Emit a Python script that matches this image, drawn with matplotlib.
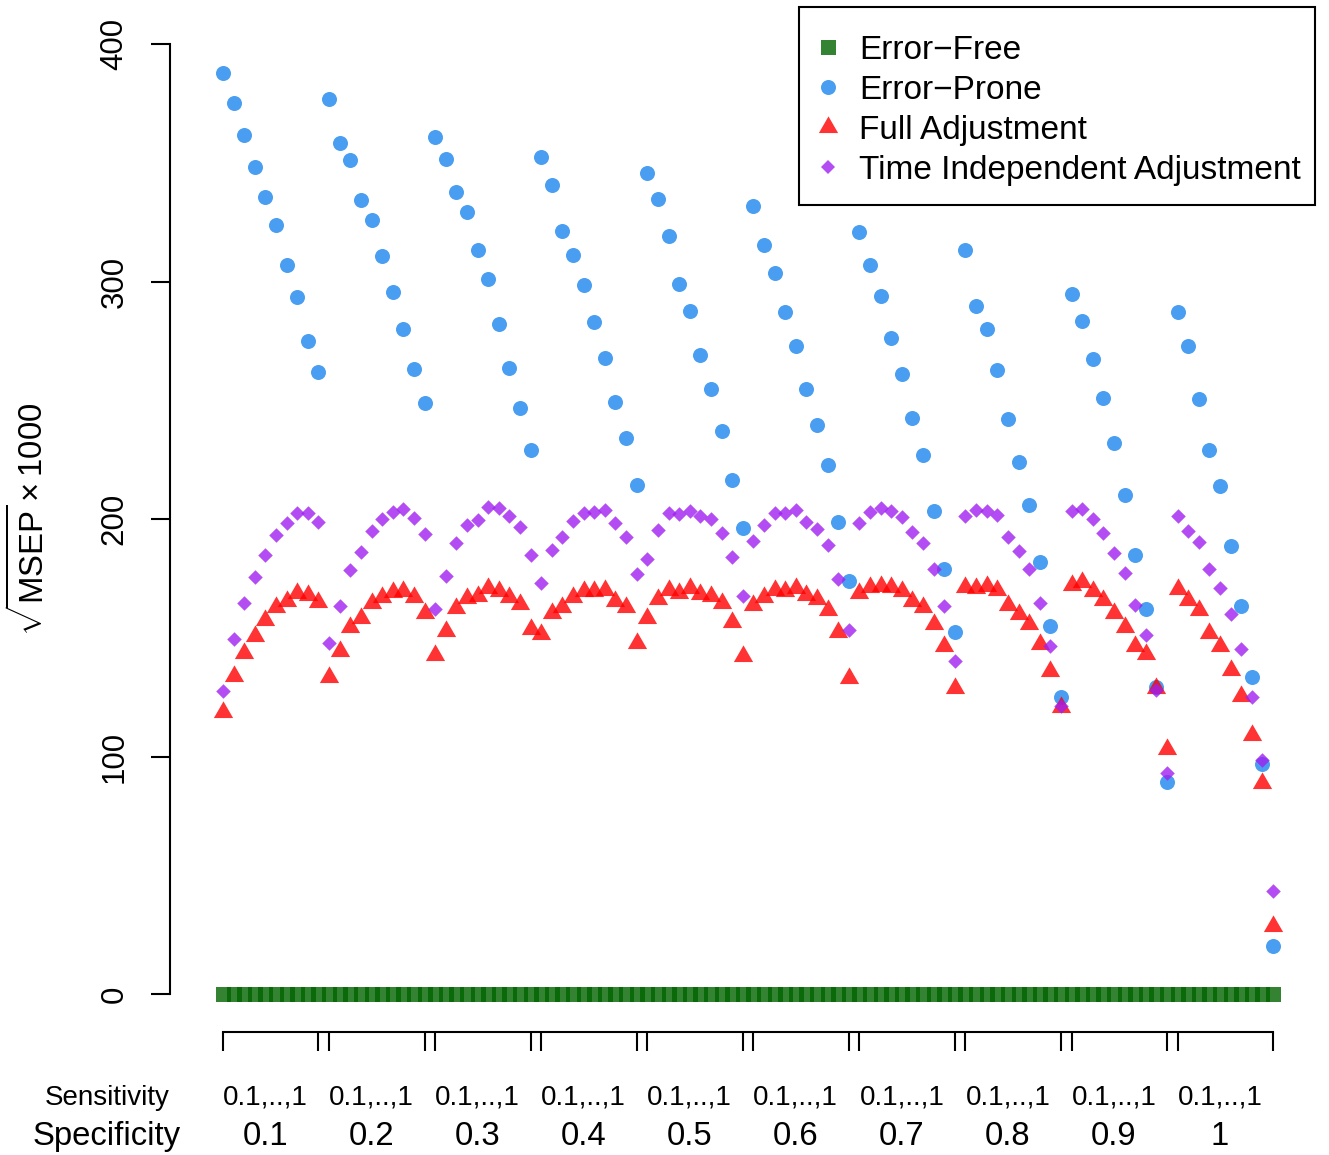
import matplotlib
matplotlib.use("Agg")
import matplotlib.pyplot as plt
from matplotlib.path import Path
from matplotlib.lines import Line2D
from matplotlib.patches import Rectangle
from matplotlib.transforms import blended_transform_factory

plt.rcParams['font.family'] = ['Liberation Sans', 'DejaVu Sans']
plt.rcParams['mathtext.fontset'] = 'custom'
plt.rcParams['mathtext.rm'] = 'Liberation Sans'
plt.rcParams['mathtext.it'] = 'Liberation Sans:italic'
plt.rcParams['mathtext.bf'] = 'Liberation Sans:bold'

# Specificity groups; within each group sensitivity runs 0.1, 0.2, ..., 1
specificity = ["0.1", "0.2", "0.3", "0.4", "0.5", "0.6", "0.7", "0.8", "0.9", "1"]
sensitivity_label = "0.1,..,1"
series_names = ["Error\u2212Free", "Error\u2212Prone", "Full Adjustment",
                "Time Independent Adjustment"]

# sqrt(MSEP) x 1000, ten sensitivity values per specificity group
error_free = [
    0.0, 0.0, 0.0, 0.0, 0.0, 0.0, 0.0, 0.0, 0.0, 0.0,
    0.0, 0.0, 0.0, 0.0, 0.0, 0.0, 0.0, 0.0, 0.0, 0.0,
    0.0, 0.0, 0.0, 0.0, 0.0, 0.0, 0.0, 0.0, 0.0, 0.0,
    0.0, 0.0, 0.0, 0.0, 0.0, 0.0, 0.0, 0.0, 0.0, 0.0,
    0.0, 0.0, 0.0, 0.0, 0.0, 0.0, 0.0, 0.0, 0.0, 0.0,
    0.0, 0.0, 0.0, 0.0, 0.0, 0.0, 0.0, 0.0, 0.0, 0.0,
    0.0, 0.0, 0.0, 0.0, 0.0, 0.0, 0.0, 0.0, 0.0, 0.0,
    0.0, 0.0, 0.0, 0.0, 0.0, 0.0, 0.0, 0.0, 0.0, 0.0,
    0.0, 0.0, 0.0, 0.0, 0.0, 0.0, 0.0, 0.0, 0.0, 0.0,
    0.0, 0.0, 0.0, 0.0, 0.0, 0.0, 0.0, 0.0, 0.0, 0.0,
]
error_prone = [
    387.7, 375.0, 361.5, 348.3, 335.6, 323.9, 306.8, 293.3, 274.9, 262.0,
    376.8, 358.2, 351.3, 334.3, 325.9, 310.9, 295.7, 279.9, 263.0, 248.7,
    360.8, 351.7, 337.5, 329.4, 313.3, 301.1, 282.0, 263.4, 246.7, 229.1,
    352.3, 340.6, 321.1, 311.3, 298.5, 282.8, 267.8, 249.4, 233.9, 214.2,
    345.5, 334.6, 319.2, 298.9, 287.7, 269.2, 254.6, 236.9, 216.3, 196.2,
    331.6, 315.4, 303.7, 287.2, 272.8, 254.6, 239.6, 222.9, 198.6, 174.0,
    320.7, 307.1, 294.0, 276.3, 261.1, 242.4, 226.8, 203.4, 178.8, 152.3,
    313.1, 289.7, 280.0, 262.9, 242.1, 224.1, 206.0, 182.0, 154.9, 125.2,
    294.7, 283.5, 267.2, 250.8, 232.1, 210.2, 185.0, 162.0, 129.4, 89.3,
    287.0, 272.8, 250.5, 229.2, 213.8, 188.6, 163.5, 133.6, 97.0, 20.2,
]
full_adjustment = [
    118.7, 133.8, 143.4, 150.7, 157.4, 162.8, 165.6, 168.7, 167.9, 165.2,
    133.6, 144.3, 154.6, 158.3, 164.7, 167.3, 169.3, 169.6, 167.3, 160.6,
    142.9, 153.0, 162.5, 166.7, 167.4, 170.9, 169.8, 167.3, 164.2, 153.8,
    151.4, 160.3, 162.8, 167.3, 169.8, 169.6, 170.3, 165.6, 162.8, 148.0,
    158.3, 166.3, 170.1, 168.8, 170.9, 168.4, 167.7, 164.6, 156.8, 142.3,
    164.0, 167.3, 170.1, 169.8, 170.9, 168.0, 166.3, 161.5, 152.3, 133.2,
    168.7, 171.5, 171.9, 171.5, 169.8, 165.6, 162.8, 155.8, 146.4, 128.9,
    171.4, 171.1, 171.9, 170.3, 163.8, 160.0, 155.8, 147.4, 135.9, 120.8,
    172.1, 173.5, 169.8, 165.9, 160.3, 154.7, 146.6, 143.3, 128.8, 103.0,
    170.7, 165.9, 161.7, 151.9, 146.6, 136.4, 125.4, 109.0, 88.8, 28.6,
]
time_independent = [
    127.7, 149.6, 164.5, 175.7, 184.8, 193.3, 198.2, 202.4, 202.7, 198.6,
    147.7, 163.5, 178.5, 186.0, 194.9, 200.0, 202.8, 204.2, 200.6, 193.5,
    162.0, 176.1, 189.8, 197.5, 199.6, 205.2, 204.5, 201.4, 196.5, 184.8,
    172.9, 186.9, 192.3, 199.3, 202.4, 203.1, 203.8, 198.2, 192.6, 176.8,
    183.0, 195.4, 202.4, 202.1, 203.5, 201.3, 199.9, 194.0, 183.9, 167.7,
    190.9, 197.5, 202.7, 202.7, 203.8, 198.9, 195.7, 189.1, 174.6, 153.3,
    198.4, 202.8, 204.5, 203.4, 201.0, 194.7, 190.0, 178.9, 163.5, 140.3,
    201.3, 203.8, 203.4, 201.7, 192.3, 186.5, 178.9, 164.5, 146.6, 121.3,
    203.4, 204.2, 200.0, 194.2, 185.5, 177.1, 163.8, 151.0, 128.0, 93.2,
    201.3, 195.1, 190.3, 178.8, 171.1, 160.0, 145.1, 125.2, 98.5, 43.5,
]

n_sens = 10
n_total = len(error_prone)
index = list(range(1, n_total + 1))

# Colours (80% opaque)
col_free = (0.0, 100 / 255, 0.0, 0.8)
col_prone = (28 / 255, 134 / 255, 238 / 255, 0.8)
col_full = (1.0, 0.0, 0.0, 0.8)
col_time = (160 / 255, 32 / 255, 240 / 255, 0.8)

# Upward triangle whose centroid sits on the data point
tri_marker = Path([(0.0, 1.5551), (1.3468, -0.7776), (-1.3468, -0.7776), (0.0, 1.5551)],
                  [Path.MOVETO, Path.LINETO, Path.LINETO, Path.CLOSEPOLY])

W, H = 1329, 1155
fig = plt.figure(figsize=(W / 100, H / 100), dpi=100)
left_px, right_px, top_px, bottom_px = 170, 1315.5, 6, 1032
ax = fig.add_axes([left_px / W, 1 - bottom_px / H,
                   (right_px - left_px) / W, (bottom_px - top_px) / H])

ms_sq, ms_circ, ms_tri, ms_dia = 10.8, 10.8, 16.0, 7.4
ax.scatter(index, error_free, marker="s", s=ms_sq ** 2, color=col_free, linewidths=0, zorder=2)
ax.scatter(index, error_prone, marker="o", s=ms_circ ** 2, color=col_prone, linewidths=0, zorder=3)
ax.scatter(index, full_adjustment, marker=tri_marker, s=ms_tri ** 2, color=col_full, linewidths=0, zorder=4)
ax.scatter(index, time_independent, marker="D", s=ms_dia ** 2, color=col_time, linewidths=0, zorder=5)

ax.set_xlim(-4, 104)
ax.set_ylim(-16, 416)

# Axes in base-graphics style: open frame, bounded spines
for side in ("top", "right"):
    ax.spines[side].set_visible(False)
lw = 1.5
ax.spines["left"].set_bounds(0, 400)
ax.spines["bottom"].set_bounds(1, n_total)
ax.spines["left"].set_linewidth(lw)
ax.spines["bottom"].set_linewidth(lw)

group_edges = []
for g in range(len(specificity)):
    group_edges += [g * n_sens + 1, (g + 1) * n_sens]
ax.set_xticks(group_edges)
ax.set_xticklabels([])
ax.set_yticks([0, 100, 200, 300, 400])
ax.set_yticklabels(["0", "100", "200", "300", "400"], rotation=90, va="center")
ax.tick_params(axis="both", direction="out", length=14, width=lw)
ax.tick_params(axis="y", labelsize=22.5, pad=15)

# Group annotations under the axis
trans = blended_transform_factory(ax.transData, fig.transFigure)
y_sens = 1 - 1105 / H
y_spec = 1 - 1145 / H
for g, spec in enumerate(specificity):
    xc = g * n_sens + 5
    ax.text(xc, y_sens, sensitivity_label, transform=trans, ha="center",
            va="baseline", fontsize=20)
    ax.text(xc, y_spec, spec, transform=trans, ha="center",
            va="baseline", fontsize=23.7)
fig.text(107 / W, y_sens, "Sensitivity", ha="center", va="baseline", fontsize=20)
fig.text(107 / W, y_spec, "Specificity", ha="center", va="baseline", fontsize=23.7)

fig.text(30 / W, 1 - 519 / H, r"$\sqrt{\mathrm{MSEP}}\times1000$", rotation=90,
         ha="center", va="center", fontsize=23.7)

# Legend: entries without frame, boxed by a plain rectangle
handles = [
    Line2D([], [], linestyle="none", marker="s", markersize=ms_sq, color=col_free, markeredgewidth=0),
    Line2D([], [], linestyle="none", marker="o", markersize=ms_circ, color=col_prone, markeredgewidth=0),
    Line2D([], [], linestyle="none", marker=tri_marker, markersize=ms_tri, color=col_full, markeredgewidth=0),
    Line2D([], [], linestyle="none", marker="D", markersize=ms_dia, color=col_time, markeredgewidth=0),
]
box_l, box_r, box_t, box_b = 799, 1315, 7, 205
legend_box = Rectangle((box_l / W, 1 - box_b / H), (box_r - box_l) / W, (box_b - box_t) / H,
                       transform=fig.transFigure, facecolor="white", edgecolor="black",
                       linewidth=lw, zorder=6, clip_on=False)
ax.add_patch(legend_box)
leg = ax.legend(handles, series_names, loc="upper right",
                bbox_to_anchor=(box_r / W, 1 - 21 / H), bbox_transform=fig.transFigure,
                borderaxespad=0.0, fontsize=24, frameon=False, borderpad=0.42,
                labelspacing=0.27, handlelength=0.5, handletextpad=0.7)
leg.set_zorder(7)

fig.savefig("out.png", dpi=100, facecolor="white")
